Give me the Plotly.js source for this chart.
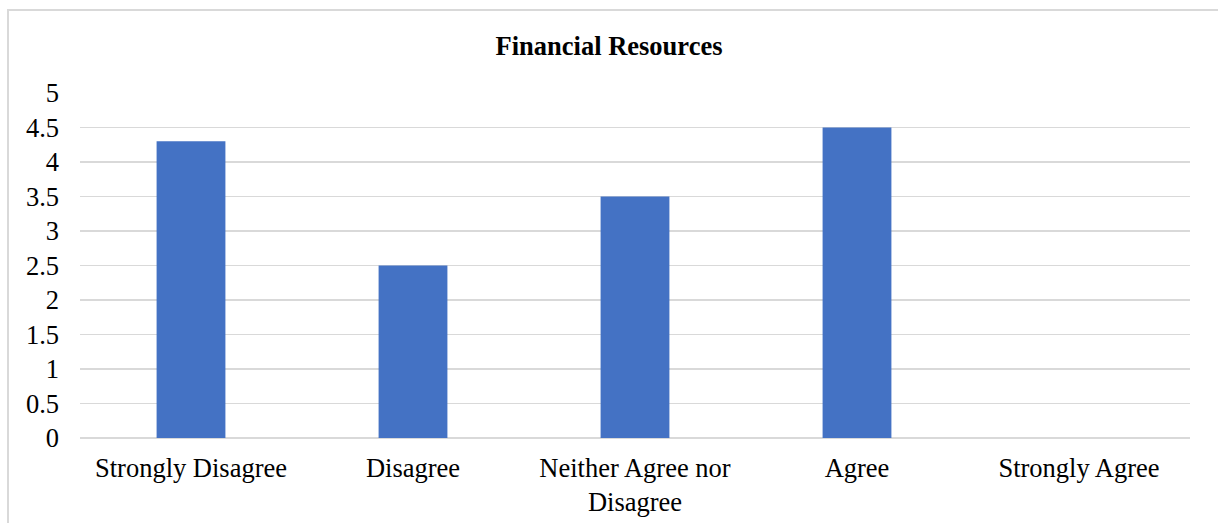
<!DOCTYPE html>
<html>
<head>
<meta charset="utf-8">
<script src="https://cdn.plot.ly/plotly-3.0.1.min.js"></script>
<style>
html,body{margin:0;padding:0;background:#fff;overflow:hidden;}
#frame{position:absolute;left:7px;top:9px;width:1240px;height:600px;border:2px solid #d9d9d9;box-sizing:border-box;}
#chart{position:absolute;left:0;top:0;width:1218px;height:523px;}
</style>
</head>
<body>
<div id="frame"></div>
<div id="chart"></div>
<script>
var categories = ["Strongly Disagree", "Disagree", "Neither Agree nor<br>Disagree", "Agree", "Strongly Agree"];
var values = [4.3, 2.5, 3.5, 4.5, 0];
var yTicks = [0, 0.5, 1, 1.5, 2, 2.5, 3, 3.5, 4, 4.5, 5];
var yTickLabels = ["0", "0.5", "1", "1.5", "2", "2.5", "3", "3.5", "4", "4.5", "5"];

var serif = "Liberation Serif, Times New Roman, serif";
var fs = 26.5;

Plotly.newPlot("chart", [{
  type: "bar",
  x: categories,
  y: values,
  marker: {color: "#4472C4"},
  hoverinfo: "x+y"
}], {
  width: 1218,
  height: 523,
  paper_bgcolor: "rgba(0,0,0,0)",
  plot_bgcolor: "rgba(0,0,0,0)",
  margin: {l: 80, r: 28, t: 93, b: 85},
  bargap: 0.69,
  showlegend: false,
  title: {
    text: "<b>Financial Resources</b>",
    font: {family: serif, size: fs, color: "#000"},
    x: 0.5, xanchor: "center",
    y: 1 - 46/523, yanchor: "middle", yref: "container"
  },
  xaxis: {
    type: "category",
    showgrid: false,
    showline: false,
    zeroline: false,
    ticks: "",
    tickfont: {family: serif, size: fs, color: "#000"},
    ticklabelstandoff: 11
  },
  yaxis: {
    range: [0, 5],
    tickvals: yTicks,
    ticktext: yTickLabels,
    showgrid: true,
    gridcolor: "#d9d9d9",
    gridwidth: 1.5,
    zeroline: true,
    zerolinecolor: "#d9d9d9",
    zerolinewidth: 1.5,
    showline: false,
    ticks: "",
    tickfont: {family: serif, size: fs, color: "#000"},
    ticklabelstandoff: 20
  }
}, {displayModeBar: false, staticPlot: true});
</script>
</body>
</html>
